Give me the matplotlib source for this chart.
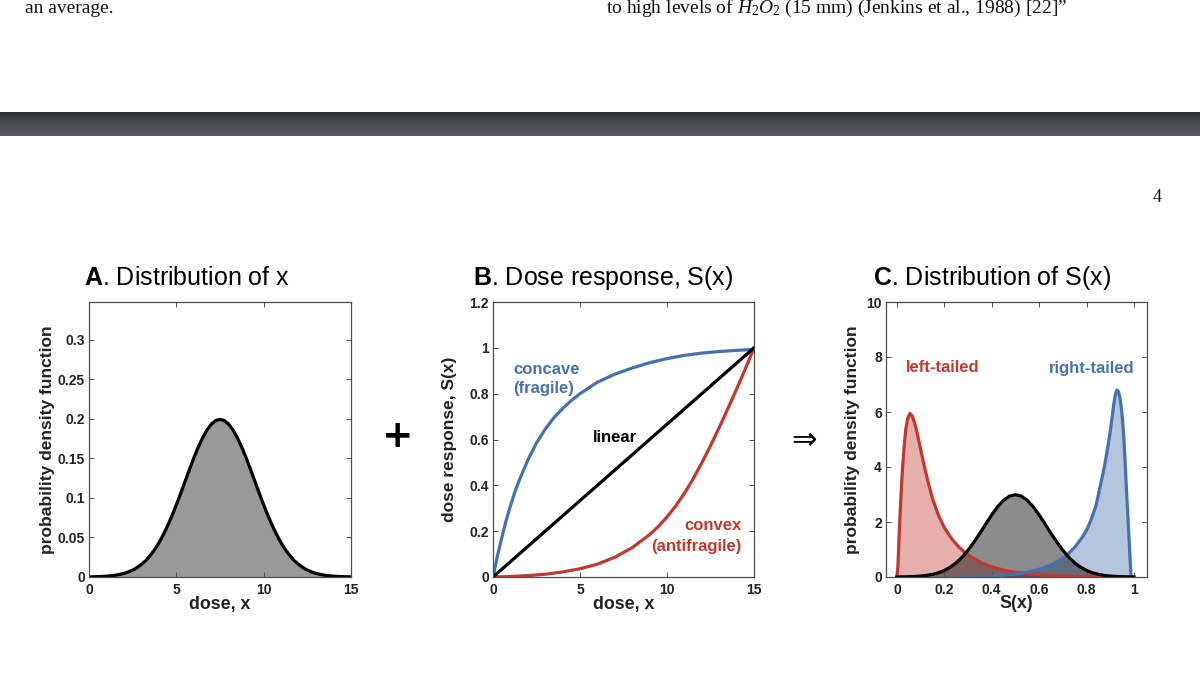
import numpy as np
import matplotlib
matplotlib.use("Agg")
import matplotlib.pyplot as plt

plt.rcParams['font.family'] = ['Liberation Sans', 'DejaVu Sans']
plt.rcParams['mathtext.fontset'] = 'custom'
plt.rcParams['mathtext.bf'] = 'Liberation Sans:bold'
plt.rcParams['mathtext.rm'] = 'Liberation Serif'
plt.rcParams['mathtext.it'] = 'Liberation Serif:italic'

# ---------------- data ----------------
# Panel A: distribution of dose x
dose_a = [0, 0.25, 0.5, 0.75, 1, 1.25, 1.5, 1.75, 2, 2.25, 2.5, 2.75, 3, 3.25, 3.5, 3.75,
          4, 4.25, 4.5, 4.75, 5, 5.25, 5.5, 5.75, 6, 6.25, 6.5, 6.75, 7, 7.25, 7.5,
          7.75, 8, 8.25, 8.5, 8.75, 9, 9.25, 9.5, 9.75, 10, 10.25, 10.5, 10.75, 11,
          11.25, 11.5, 11.75, 12, 12.25, 12.5, 12.75, 13, 13.25, 13.5, 13.75, 14,
          14.25, 14.5, 14.75, 15]
pdf_a = [0.00018, 0.00028, 0.00044, 0.00067, 0.00102, 0.00151, 0.00222, 0.0032, 0.00455,
         0.00636, 0.00876, 0.0119, 0.0159, 0.0209, 0.0270, 0.0344, 0.0431, 0.0533, 0.0648,
         0.0775, 0.0913, 0.1059, 0.1210, 0.1360, 0.1506, 0.1641, 0.1760, 0.1859, 0.1933,
         0.1979, 0.1995,
         0.1979, 0.1933, 0.1859, 0.1760, 0.1641, 0.1506, 0.1360, 0.1210, 0.1059, 0.0913,
         0.0775, 0.0648, 0.0533, 0.0431, 0.0344, 0.0270, 0.0209, 0.0159, 0.0119, 0.00876,
         0.00636, 0.00455, 0.0032, 0.00222, 0.00151, 0.00102, 0.00067, 0.00044, 0.00028,
         0.00018]

# Panel B: dose responses
dose_concave = [0, 0.25, 0.5, 0.75, 1, 1.25, 1.5, 2, 2.5, 3, 3.5, 4, 4.5, 5, 5.5, 6, 7, 8,
                9, 10, 11, 12, 13, 14, 15]
concave_b = [0, 0.09, 0.17, 0.245, 0.31, 0.37, 0.42, 0.51, 0.585, 0.645, 0.695, 0.735,
             0.77, 0.80, 0.825, 0.85, 0.885, 0.912, 0.935, 0.953, 0.967, 0.977, 0.984,
             0.989, 0.993]
dose_convex = [0, 1, 2, 3, 4, 5, 6, 7, 8, 9, 9.5, 10, 10.5, 11, 11.5, 12, 12.5, 13, 13.5,
               14, 14.5, 15]
convex_b = [0, 0.002, 0.006, 0.012, 0.022, 0.036, 0.056, 0.086, 0.128, 0.185, 0.22, 0.262,
            0.31, 0.365, 0.428, 0.498, 0.573, 0.652, 0.735, 0.82, 0.908, 1.0]
linear_x = [0, 15]
linear_y = [0, 1]

# Panel C: distributions of S(x)
s_mid = [0, 0.025, 0.05, 0.075, 0.1, 0.125, 0.15, 0.175, 0.2, 0.225, 0.25, 0.275, 0.3,
         0.325, 0.35, 0.375, 0.4, 0.425, 0.45, 0.475, 0.5, 0.525, 0.55, 0.575, 0.6, 0.625,
         0.65, 0.675, 0.7, 0.725, 0.75, 0.775, 0.8, 0.825, 0.85, 0.875, 0.9, 0.925, 0.95,
         0.975, 1.0]
pdf_mid = [0.0026, 0.0052, 0.0101, 0.0186, 0.0332, 0.0573, 0.0955, 0.1534, 0.238, 0.3567,
           0.516, 0.7206, 0.971, 1.265, 1.589, 1.928, 2.258, 2.555, 2.789, 2.940, 2.992,
           2.940, 2.789, 2.555, 2.258, 1.928, 1.589, 1.265, 0.971, 0.7206, 0.516, 0.3567,
           0.238, 0.1534, 0.0955, 0.0573, 0.0332, 0.0186, 0.0101, 0.0052, 0.0026]

s_left = [0, 0.004, 0.008, 0.013, 0.018, 0.024, 0.030, 0.037, 0.045, 0.055, 0.065, 0.075,
          0.085, 0.095, 0.105, 0.115, 0.13, 0.15, 0.175, 0.20, 0.23, 0.26, 0.29, 0.32, 0.36,
          0.40, 0.45, 0.50, 0.55, 0.60, 0.70, 0.80, 0.90, 1.0]
pdf_left = [0, 0.37, 1.2, 2.2, 3.1, 4.0, 4.7, 5.35, 5.75, 5.95, 5.85, 5.6, 5.25, 4.85,
            4.45, 4.05, 3.5, 2.85, 2.25, 1.8, 1.4, 1.1, 0.87, 0.69, 0.5, 0.37, 0.25, 0.17,
            0.12, 0.08, 0.04, 0.02, 0.01, 0.0]

s_right = [0.25, 0.30, 0.35, 0.40, 0.45, 0.50, 0.55, 0.60, 0.65, 0.70, 0.72, 0.75, 0.78,
           0.80, 0.82, 0.84, 0.86, 0.875, 0.89, 0.90, 0.91, 0.915, 0.922, 0.928, 0.934,
           0.94, 0.946, 0.952, 0.958, 0.964, 0.970, 0.976, 0.981, 0.985, 0.988]
pdf_right = [0, 0.005, 0.015, 0.035, 0.065, 0.11, 0.18, 0.28, 0.43, 0.68, 0.82, 1.08, 1.42,
             1.7, 2.1, 2.6, 3.4, 4.0, 4.75, 5.3, 5.95, 6.3, 6.65, 6.8, 6.75, 6.55, 6.2,
             5.7, 4.95, 3.95, 2.9, 1.95, 1.1, 0.45, 0.0]

a_xticks = [0, 5, 10, 15]
a_yticks = [0, 0.05, 0.1, 0.15, 0.2, 0.25, 0.3]
a_yticklabels = ['0', '0.05', '0.1', '0.15', '0.2', '0.25', '0.3']
b_yticks = [0, 0.2, 0.4, 0.6, 0.8, 1.0, 1.2]
b_yticklabels = ['0', '0.2', '0.4', '0.6', '0.8', '1', '1.2']
c_xticks = [0, 0.2, 0.4, 0.6, 0.8, 1.0]
c_xticklabels = ['0', '0.2', '0.4', '0.6', '0.8', '1']
c_yticks = [0, 2, 4, 6, 8, 10]

# ---------------- style ----------------
BLUE = '#4572ae'
RED = '#c0392f'
TXT = '#222222'
W, H = 1200, 675

fig = plt.figure(figsize=(12, 6.75), dpi=100)
fig.patch.set_facecolor('white')


def px_axes(left, top, right, bottom):
    return fig.add_axes([left / W, 1 - bottom / H, (right - left) / W, (bottom - top) / H])


def style(ax):
    for sp in ax.spines.values():
        sp.set_color('#4d4d4d')
        sp.set_linewidth(0.9)
    ax.tick_params(direction='in', top=True, right=True, length=3.5, width=0.7,
                   colors='#4d4d4d', labelcolor=TXT, labelsize=10)
    for lab in ax.get_xticklabels() + ax.get_yticklabels():
        lab.set_fontweight('bold')
    ax.tick_params(axis='x', pad=4)
    ax.tick_params(axis='y', pad=3)


def labels(ax, xl, yl, ylx):
    ax.set_xlabel(xl, fontsize=12.8, fontweight='bold', color=TXT, va='center')
    ax.set_ylabel(yl, fontsize=12.5, fontweight='bold', color=TXT, va='center')
    ax.xaxis.set_label_coords(0.5, -(604 - 577) / 275)
    ax.yaxis.set_label_coords(ylx, 0.5)


# top page fragments
fig.text(25 / W, 1 - 13 / H, 'an average.', fontfamily='Liberation Serif', fontsize=14,
         color='#111111', va='baseline', ha='left')
fig.text(606 / W, 1 - 13 / H, r'to high levels of $H_2O_2$ (15 mm) (Jenkins et al., 1988) [22]”',
         fontfamily='Liberation Serif', fontsize=14, color='#111111', va='baseline', ha='left')
fig.text(1157 / W, 1 - 198 / H, '4', fontfamily='Liberation Serif', fontsize=13,
         color='#111111', va='center', ha='center')

# dark band
band = fig.add_axes([0, 1 - 136 / H, 1, 24 / H])
grad = np.linspace(0, 1, 24).reshape(-1, 1)
band.imshow(grad, aspect='auto', cmap=matplotlib.colors.LinearSegmentedColormap.from_list(
    'band', ['#2f3235', '#45484c', '#505357', '#585b5e']), extent=[0, 1, 0, 1], origin='upper')
band.set_axis_off()

# ---------------- Panel A ----------------
axA = px_axes(89, 302, 351, 577)
axA.fill_between(dose_a, pdf_a, 0, color='#999999', lw=0)
axA.plot(dose_a, pdf_a, color='black', lw=2.3, solid_capstyle='round')
axA.set_xlim(0, 15)
axA.set_ylim(0, 0.348)
axA.set_xticks(a_xticks)
axA.set_yticks(a_yticks)
axA.set_yticklabels(a_yticklabels)
style(axA)
labels(axA, 'dose, x', 'probability density function', -0.16)

# ---------------- Panel B ----------------
axB = px_axes(493, 302, 754, 577)
axB.plot(dose_concave, concave_b, color=BLUE, lw=2.3)
axB.plot(dose_convex, convex_b, color=RED, lw=2.3)
axB.plot(linear_x, linear_y, color='black', lw=2.3)
axB.set_xlim(0, 15)
axB.set_ylim(0, 1.2)
axB.set_xticks(a_xticks)
axB.set_yticks(b_yticks)
axB.set_yticklabels(b_yticklabels)
style(axB)
labels(axB, 'dose, x', 'dose response, S(x)', -0.165)
tb = dict(fontsize=12, fontweight='bold', transform=fig.transFigure)
fig.text(513 / W, 1 - 369 / H, 'concave', color=BLUE, va='center', ha='left', **tb)
fig.text(513 / W, 1 - 389 / H, '(fragile)', color=BLUE, va='center', ha='left', **tb)
fig.text(593 / W, 1 - 437 / H, 'linear', color='black', va='center', ha='left', **tb)
fig.text(742 / W, 1 - 526 / H, 'convex', color=RED, va='center', ha='right', **tb)
fig.text(742 / W, 1 - 546 / H, '(antifragile)', color=RED, va='center', ha='right', **tb)

# ---------------- Panel C ----------------
axC = px_axes(886, 302, 1147, 577)
axC.fill_between(s_left, pdf_left, 0, color=RED, alpha=0.4, lw=0)
axC.fill_between(s_right, pdf_right, 0, color=BLUE, alpha=0.4, lw=0)
axC.fill_between(s_mid, pdf_mid, 0, color='black', alpha=0.45, lw=0)
axC.plot(s_left, pdf_left, color=RED, lw=2.3)
axC.plot(s_right, pdf_right, color=BLUE, lw=2.3)
axC.plot(s_mid, pdf_mid, color='black', lw=2.3)
axC.set_xlim(-0.046, 1.055)
axC.set_ylim(0, 10)
axC.set_xticks(c_xticks)
axC.set_xticklabels(c_xticklabels)
axC.set_yticks(c_yticks)
style(axC)
labels(axC, 'S(x)', 'probability density function', -0.13)
fig.text(906 / W, 1 - 368 / H, 'left-tailed', color=RED, va='center', ha='left', **tb)
fig.text(1135 / W, 1 - 368 / H, 'right-tailed', color=BLUE, va='center', ha='right', **tb)

# titles
for xpos, letter, rest in [(84, 'A', '. Distribution of x'),
                           (473, 'B', '. Dose response, S(x)'),
                           (873, 'C', '. Distribution of S(x)')]:
    fig.text(xpos / W, 1 - 285 / H, r'$\mathbf{' + letter + '}$' + rest, fontsize=18,
             color='black', va='baseline', ha='left')

# operators between panels
fig.text(397.5 / W, 1 - 437 / H, '+', fontfamily='DejaVu Sans', fontweight='bold',
         fontsize=27, color='black', va='center', ha='center')
fig.text(804 / W, 1 - 440 / H, '⇒', fontfamily='DejaVu Sans', fontsize=22,
         color='black', va='center', ha='center')

fig.savefig('out.png', dpi=100, facecolor='white')
